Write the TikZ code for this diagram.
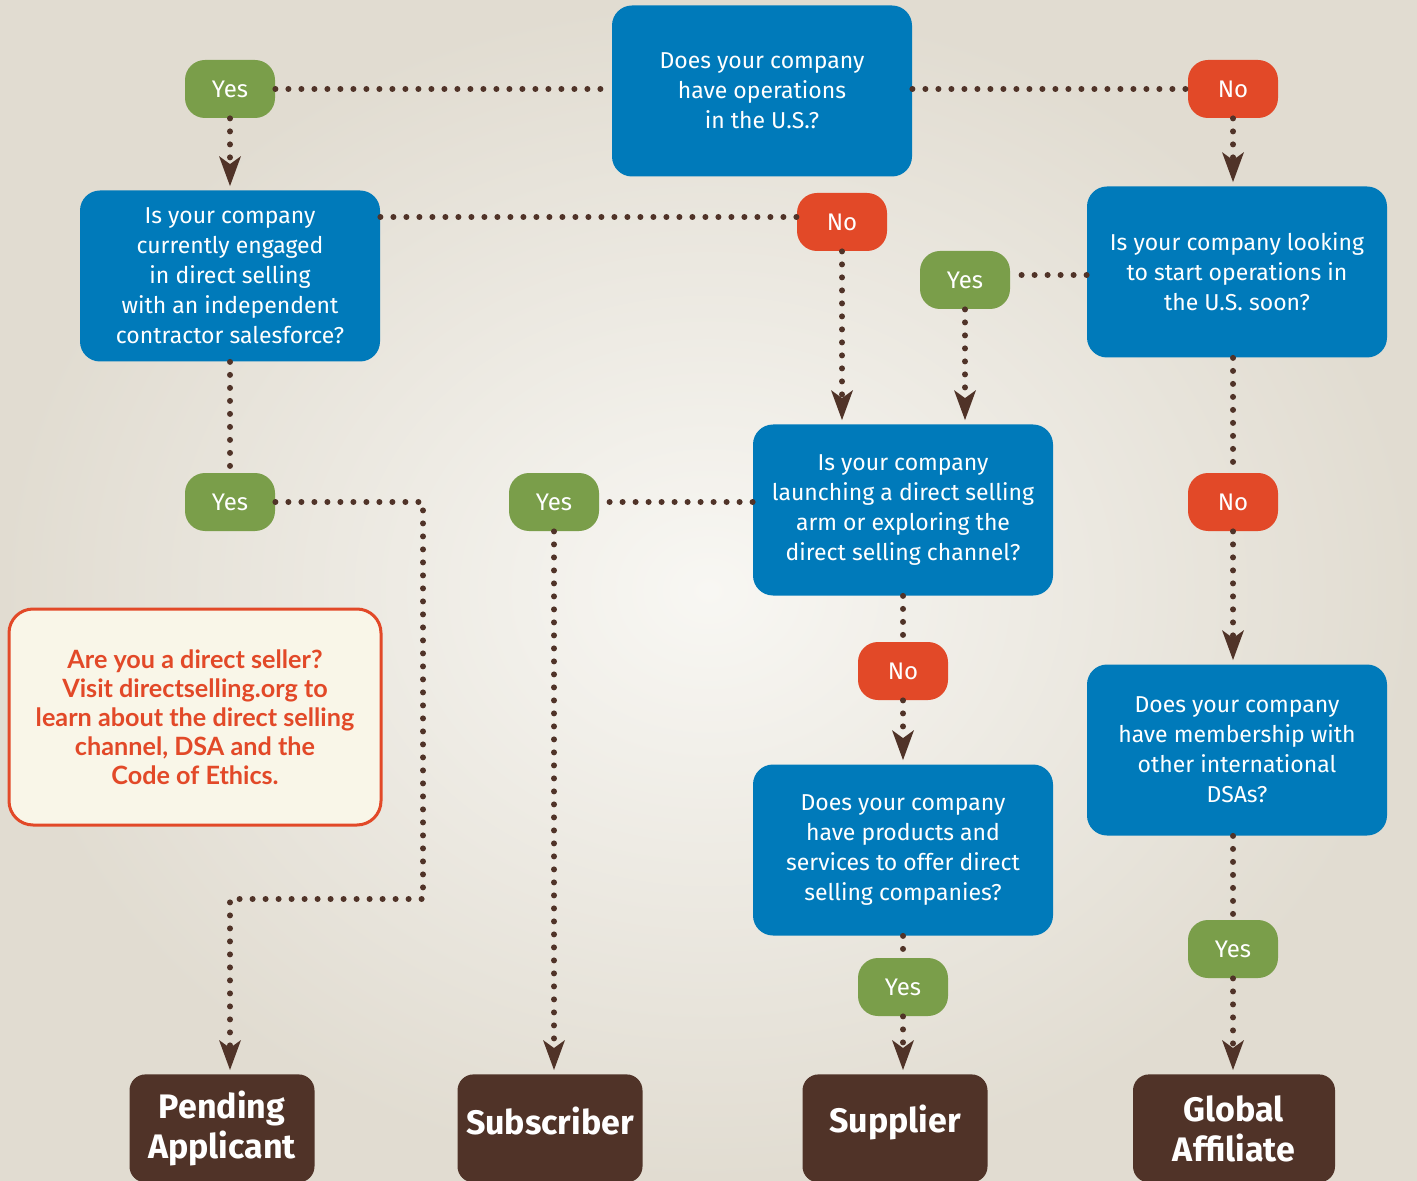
\documentclass[tikz,border=0pt]{standalone}
\usepackage{fontspec}
\setmainfont{Fira Sans}
\newfontfamily\notefont{Lato}
\usetikzlibrary{arrows.meta,positioning}

\definecolor{dsablue}{RGB}{0,122,186}
\definecolor{dsagreen}{RGB}{122,158,74}
\definecolor{dsared}{RGB}{226,73,40}
\definecolor{dsabrown}{RGB}{80,51,40}
\definecolor{dsacream}{RGB}{249,246,232}
\definecolor{dsabg}{RGB}{225,220,209}
\definecolor{dsabglight}{RGB}{248,247,243}

\begin{document}
\begin{tikzpicture}[x=0.5pt,y=-0.5pt,
	question/.style={rectangle,rounded corners=10pt,fill=dsablue,text=white,
		minimum width=150pt,minimum height=85.5pt,inner sep=0pt,align=center,
		font=\fontsize{11.5}{15}\selectfont},
	yesbox/.style={rectangle,rounded corners=10pt,fill=dsagreen,text=white,
		minimum width=45pt,minimum height=29pt,inner sep=0pt,
		font=\fontsize{12}{14}\selectfont},
	nobox/.style={yesbox,fill=dsared},
	result/.style={rectangle,rounded corners=8pt,fill=dsabrown,text=white,
		minimum width=92.5pt,minimum height=54pt,anchor=north,align=center,
		font=\bfseries\fontsize{17}{20}\selectfont},
	dots/.style={draw=dsabrown,line width=3pt,line cap=round,dash pattern=on 0pt off 6.5pt},
	flow/.style={dots,shorten >=2pt,
		-{Stealth[length=15pt,width=11pt,inset=4pt,line width=0pt,fill=dsabrown]}}
]

% background
\shade[inner color=dsabglight,outer color=dsabg] (0,0) rectangle (1417,1181);
\useasboundingbox (0,0) rectangle (1417,1181);

% questions
\node[question] (q1) at (762,91) {Does your company\\have operations\\in the U.S.?};
\node[question] (q2) at (230,276) {Is your company\\currently engaged\\in direct selling\\with an independent\\contractor salesforce?};
\node[question] (q3) at (1237,272) {Is your company looking\\to start operations in\\the U.S. soon?};
\node[question] (q4) at (903,510) {Is your company\\launching a direct selling\\arm or exploring the\\direct selling channel?};
\node[question] (q5) at (903,850) {Does your company\\have products and\\services to offer direct\\selling companies?};
\node[question] (q6) at (1237,750) {Does your company\\have membership with\\other international\\DSAs?};

% answers
\node[yesbox] (yes1) at (230,89) {Yes};
\node[nobox] (no1) at (1233,89) {No};
\node[nobox] (no2) at (842,222) {No};
\node[yesbox] (yes3) at (965,280) {Yes};
\node[yesbox] (yes4) at (230,502) {Yes};
\node[yesbox] (yes5) at (554,502) {Yes};
\node[nobox] (no3) at (903,671) {No};
\node[nobox] (no4) at (1233,502) {No};
\node[yesbox] (yes6) at (903,987) {Yes};
\node[yesbox] (yes7) at (1233,949) {Yes};

% results
\node[result] (pending) at (222,1074) {Pending\\Applicant};
\node[result,text depth=8pt] (subscriber) at (550,1074) {Subscriber};
\node[result,text depth=10pt] (supplier) at (895,1074) {Supplier};
\node[result,minimum width=101pt] (global) at (1234,1074) {Global\\Affiliate};

% note
\node[rectangle,rounded corners=12pt,fill=dsacream,draw=dsared,line width=1.5pt,
	minimum width=186pt,minimum height=108pt,align=center,text=dsared,
	font=\notefont\bfseries\fontsize{12.6}{14.5}\selectfont] (note) at (195,717)
	{Are you a direct seller?\\Visit directselling.org to\\learn about the direct selling\\channel, DSA and the\\Code of Ethics.};

% connectors
\draw[dots] (yes1.east) -- (yes1 -| q1.west);
\draw[dots] (q1.east |- no1) -- (no1.west);
\draw[flow] (yes1.south) -- (q2.north);
\draw[flow] (no1.south) -- (no1.south |- q3.north);

\draw[dots] (q2.east |- 0,217) -- (no2.west |- 0,217);
\draw[flow] (no2.south) -- (no2.south |- q4.north);
\draw[dots] (q3.west |- 0,275) -- (yes3.east |- 0,275);
\draw[flow] (yes3.south) -- (yes3.south |- q4.north);

\draw[dots] (q2.south) -- (yes4.north);
\coordinate (c1) at (423,502);
\coordinate (c2) at (423,899);
\coordinate (c3) at (230,899);
\draw[flow] (yes4.east) -- (c1) -- (c2) -- (c3) -- (c3 |- pending.north);

\draw[dots] (q4.west |- yes5) -- (yes5.east);
\draw[flow] (yes5.south) -- (yes5.south |- subscriber.north);

\draw[dots] (q4.south) -- (no3.north);
\draw[flow] (no3.south) -- (q5.north);
\draw[dots] (q5.south) -- (yes6.north);
\draw[flow] (yes6.south) -- (yes6.south |- supplier.north);

\draw[dots] (q3.south -| no4) -- (no4.north);
\draw[flow] (no4.south) -- (no4.south |- q6.north);
\draw[dots] (q6.south -| yes7) -- (yes7.north);
\draw[flow] (yes7.south) -- (yes7.south |- global.north);

\end{tikzpicture}
\end{document}
